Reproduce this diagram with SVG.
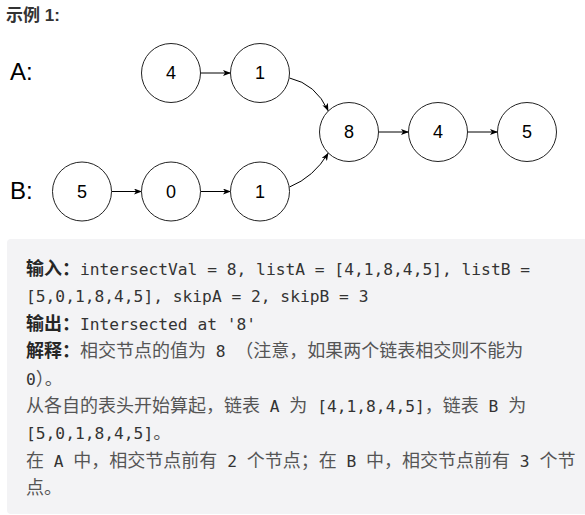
<svg xmlns="http://www.w3.org/2000/svg" width="585" height="515" viewBox="0 0 585 515">
<style>
.n circle{fill:#fff;stroke:#222;stroke-width:1}
.n text{font-family:"Liberation Sans",Arial,sans-serif;font-size:18px;fill:#000;text-anchor:middle}
.lbl{font-family:"Liberation Sans",Arial,sans-serif;font-size:24px;fill:#000}
.e{fill:none;stroke:#000;stroke-width:1;marker-end:url(#arr)}
.t{font-family:"DejaVu Sans Mono","Liberation Mono",monospace;font-size:16.25px;fill:#333}
.c{font-family:"Noto Sans CJK SC",sans-serif;font-size:18px;fill:#555}
.b{font-family:"Noto Sans CJK SC",sans-serif;font-size:18px;font-weight:bold;fill:#262626}
</style>
<defs>
<marker id="arr" markerUnits="userSpaceOnUse" viewBox="0 0 8 6" refX="7.5" refY="3" markerWidth="8" markerHeight="6" orient="auto">
<path d="M0,0 L8,3 L0,6 L2,3 z" fill="#000"/>
</marker>
</defs>
<text x="6" y="21" font-family="'Liberation Sans','Noto Sans CJK SC',sans-serif" font-size="17" font-weight="bold" fill="#333">示例 1:</text>
<text class="lbl" x="10" y="80">A:</text>
<text class="lbl" x="10" y="199">B:</text>
<g id="connectors">
<path class="e" d="M200.5,73 L230.5,73"/>
<path class="e" d="M289.5,78 Q316,84 328.2,110.9"/>
<path class="e" d="M111.5,191.5 L141.5,191.5"/>
<path class="e" d="M200.5,191.5 L230.5,191.5"/>
<path class="e" d="M289.5,187 Q314,177 328.2,153.1"/>
<path class="e" d="M378.5,132 L408.5,132"/>
<path class="e" d="M467.5,132 L497.5,132"/>
</g>
<g id="a4" class="n"><circle cx="171" cy="73" r="29.5"/><text x="171" y="79.4">4</text></g>
<g id="a1" class="n"><circle cx="260" cy="73" r="29.5"/><text x="260" y="79.4">1</text></g>
<g id="b5" class="n"><circle cx="82" cy="191.5" r="29.5"/><text x="82" y="197.9">5</text></g>
<g id="b0" class="n"><circle cx="171" cy="191.5" r="29.5"/><text x="171" y="197.9">0</text></g>
<g id="b1" class="n"><circle cx="260" cy="191.5" r="29.5"/><text x="260" y="197.9">1</text></g>
<g id="c8" class="n"><circle cx="349" cy="132" r="29.5"/><text x="349" y="138.4">8</text></g>
<g id="c4" class="n"><circle cx="438" cy="132" r="29.5"/><text x="438" y="138.4">4</text></g>
<g id="c5" class="n"><circle cx="527" cy="132" r="29.5"/><text x="527" y="138.4">5</text></g>
<g id="example">
<rect x="7" y="239" width="590" height="275" rx="4" fill="#f3f3f5"/>
<text class="t" x="26" y="275" xml:space="preserve"><tspan class="b">输入：</tspan>intersectVal = 8, listA = [4,1,8,4,5], listB =</text>
<text class="t" x="26" y="302.4" xml:space="preserve">[5,0,1,8,4,5], skipA = 2, skipB = 3</text>
<text class="t" x="26" y="329.8" xml:space="preserve"><tspan class="b">输出：</tspan>Intersected at '8'</text>
<text class="t" x="26" y="357.2" xml:space="preserve"><tspan class="b">解释：</tspan><tspan class="c">相交节点的值为</tspan> 8 <tspan class="c">（注意，如果两个链表相交则不能为</tspan></text>
<text class="t" x="26" y="384.6" xml:space="preserve">0<tspan class="c">）。</tspan></text>
<text class="t" x="26" y="412" xml:space="preserve"><tspan class="c">从各自的表头开始算起，链表</tspan> A <tspan class="c">为</tspan> [4,1,8,4,5]<tspan class="c">，链表</tspan> B <tspan class="c">为</tspan></text>
<text class="t" x="26" y="439.4" xml:space="preserve">[5,0,1,8,4,5]<tspan class="c">。</tspan></text>
<text class="t" x="26" y="466.8" xml:space="preserve"><tspan class="c">在</tspan> A <tspan class="c">中，相交节点前有</tspan> 2 <tspan class="c">个节点；在</tspan> B <tspan class="c">中，相交节点前有</tspan> 3 <tspan class="c">个节</tspan></text>
<text class="t" x="26" y="494.2" xml:space="preserve"><tspan class="c">点。</tspan></text>
</g>
</svg>
